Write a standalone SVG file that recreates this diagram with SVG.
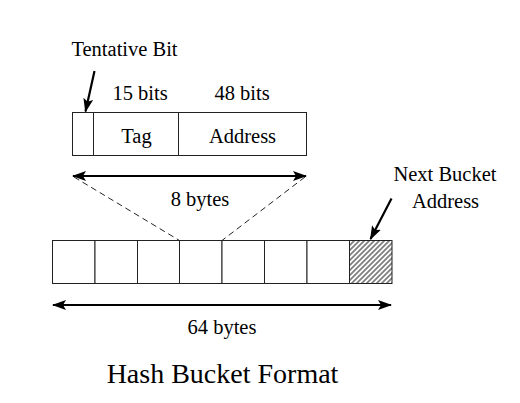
<svg xmlns="http://www.w3.org/2000/svg" width="520" height="403" viewBox="0 0 520 403">
<style>
text{font-family:"Liberation Serif","Times New Roman",serif;font-size:20.5px;fill:#000;text-anchor:middle}
.cell{fill:#fff;stroke:#222;stroke-width:1}
.arr{stroke:#000;stroke-width:2.2;fill:none}
.dash{stroke:#222;stroke-width:1;stroke-dasharray:6,4;fill:none}
</style>
<defs>
<marker id="ah" viewBox="0 0 14 10" refX="13" refY="5" markerWidth="14" markerHeight="10" markerUnits="userSpaceOnUse" orient="auto-start-reverse">
<path d="M0,0 L14,5 L0,10 L3,5 Z" fill="#000"/>
</marker>
<pattern id="hatch" patternUnits="userSpaceOnUse" width="5" height="5">
<rect width="5" height="5" fill="#fff"/>
<path d="M-1,1 L1,-1 M0,5 L5,0 M4,6 L6,4" stroke="#808080" stroke-width="1.8"/>
</pattern>
</defs>
<rect width="520" height="403" fill="#fff"/>

<g id="entry">
<rect class="cell" x="72.5" y="112.5" width="21" height="43"/>
<rect class="cell" x="93.5" y="112.5" width="85" height="43"/>
<rect class="cell" x="178.5" y="112.5" width="128" height="43"/>
<text x="136.5" y="142.5">Tag</text>
<text x="242.5" y="142.5">Address</text>
<text x="140" y="100">15 bits</text>
<text x="242" y="100">48 bits</text>
</g>

<g id="tentative-label">
<text x="124.5" y="56">Tentative Bit</text>
</g>

<g id="bucket">
<rect class="cell" x="52.5" y="240.5" width="42.5" height="43"/>
<rect class="cell" x="95" y="240.5" width="42.5" height="43"/>
<rect class="cell" x="137.5" y="240.5" width="42" height="43"/>
<rect class="cell" x="179.5" y="240.5" width="42.5" height="43"/>
<rect class="cell" x="222" y="240.5" width="42.5" height="43"/>
<rect class="cell" x="264.5" y="240.5" width="42.5" height="43"/>
<rect class="cell" x="307" y="240.5" width="42.5" height="43"/>
<rect class="cell" x="349.5" y="240.5" width="42.5" height="43" style="fill:url(#hatch)"/>
</g>

<g id="next-label">
<text x="445" y="181">Next Bucket</text>
<text x="445.5" y="208">Address</text>
</g>

<g id="size-labels">
<text x="200" y="206">8 bytes</text>
<text x="222" y="333.5">64 bytes</text>
</g>

<g id="title">
<text x="222.5" y="383" style="font-size:28px">Hash Bucket Format</text>
</g>

<g id="connectors">
<line class="arr" x1="73" y1="176" x2="306" y2="176" marker-start="url(#ah)" marker-end="url(#ah)"/>
<line class="arr" x1="53" y1="305" x2="391" y2="305" marker-start="url(#ah)" marker-end="url(#ah)"/>
<line class="arr" x1="94.5" y1="71" x2="85.5" y2="111.5" marker-end="url(#ah)"/>
<line class="arr" x1="391.5" y1="198.5" x2="370.5" y2="239" marker-end="url(#ah)"/>
<line class="dash" x1="74" y1="177" x2="179.5" y2="240.5"/>
<line class="dash" x1="305" y1="177" x2="222" y2="240.5"/>
</g>
</svg>
